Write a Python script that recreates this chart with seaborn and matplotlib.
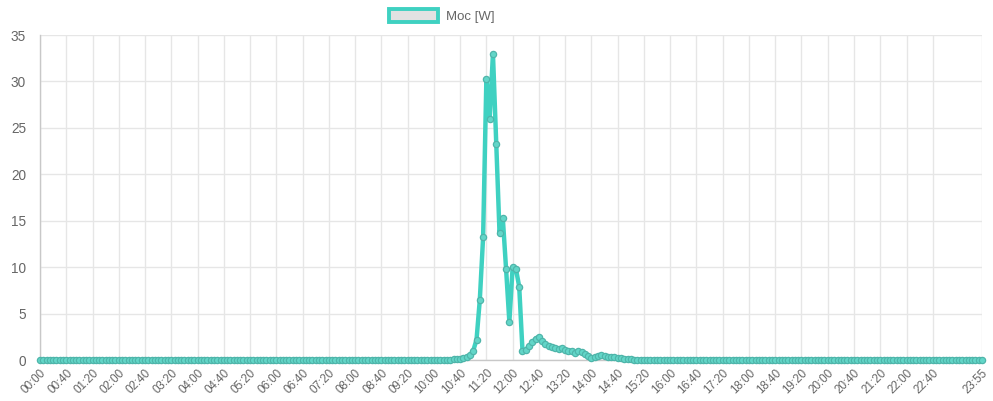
import numpy as np
import pandas as pd
import matplotlib
matplotlib.use('Agg')
import matplotlib.pyplot as plt
from matplotlib.patches import Patch
import seaborn as sns

# Moc [W] sampled every 5 minutes, one row = 2 hours (24 samples)
power = [
    0, 0, 0, 0, 0, 0, 0, 0, 0, 0, 0, 0, 0, 0, 0, 0, 0, 0, 0, 0, 0, 0, 0, 0,  # 00:00
    0, 0, 0, 0, 0, 0, 0, 0, 0, 0, 0, 0, 0, 0, 0, 0, 0, 0, 0, 0, 0, 0, 0, 0,  # 02:00
    0, 0, 0, 0, 0, 0, 0, 0, 0, 0, 0, 0, 0, 0, 0, 0, 0, 0, 0, 0, 0, 0, 0, 0,  # 04:00
    0, 0, 0, 0, 0, 0, 0, 0, 0, 0, 0, 0, 0, 0, 0, 0, 0, 0, 0, 0, 0, 0, 0, 0,  # 06:00
    0, 0, 0, 0, 0, 0, 0, 0, 0, 0, 0, 0, 0, 0, 0, 0, 0, 0, 0, 0, 0, 0, 0, 0,  # 08:00
    0.01, 0.01, 0.02, 0.02, 0.03, 0.05, 0.07, 0.1, 0.15, 0.25, 0.35, 0.5,    # 10:00
    1.0, 2.2, 6.5, 13.2, 30.3, 26.0, 33.0, 23.3, 13.7, 15.3, 9.8, 4.1,       # 11:00
    10.0, 9.8, 7.9, 1.0, 1.1, 1.5, 1.9, 2.3, 2.5, 2.1, 1.7, 1.5,             # 12:00
    1.4, 1.3, 1.2, 1.3, 1.1, 1.0, 1.0, 0.8, 1.0, 0.9, 0.7, 0.4,              # 13:00
    0.2, 0.3, 0.45, 0.5, 0.4, 0.35, 0.3, 0.3, 0.25, 0.2, 0.15, 0.1,          # 14:00
    0.08, 0.05, 0.05, 0.03, 0.02, 0, 0, 0, 0, 0, 0, 0,                       # 15:00
    0, 0, 0, 0, 0, 0, 0, 0, 0, 0, 0, 0, 0, 0, 0, 0, 0, 0, 0, 0, 0, 0, 0, 0,  # 16:00
    0, 0, 0, 0, 0, 0, 0, 0, 0, 0, 0, 0, 0, 0, 0, 0, 0, 0, 0, 0, 0, 0, 0, 0,  # 18:00
    0, 0, 0, 0, 0, 0, 0, 0, 0, 0, 0, 0, 0, 0, 0, 0, 0, 0, 0, 0, 0, 0, 0, 0,  # 20:00
    0, 0, 0, 0, 0, 0, 0, 0, 0, 0, 0, 0, 0, 0, 0, 0, 0, 0, 0, 0, 0, 0, 0, 0,  # 22:00
]

tick_labels = ['00:00', '00:40', '01:20', '02:00', '02:40', '03:20', '04:00',
               '04:40', '05:20', '06:00', '06:40', '07:20', '08:00', '08:40',
               '09:20', '10:00', '10:40', '11:20', '12:00', '12:40', '13:20',
               '14:00', '14:40', '15:20', '16:00', '16:40', '17:20', '18:00',
               '18:40', '19:20', '20:00', '20:40', '21:20', '22:00', '22:40',
               '23:55']
tick_pos = list(range(0, 273, 8)) + [287]

y_ticks = [0, 5, 10, 15, 20, 25, 30, 35]

df = pd.DataFrame({'idx': np.arange(len(power)), 'power': power})

line_color = '#3fd1c1'
text_color = '#666666'
grid_color = '#e6e6e6'

sns.set_style('white')
plt.rcParams['font.family'] = ['Liberation Sans', 'DejaVu Sans']

fig = plt.figure(figsize=(9.93, 4.01), dpi=100)
ax = fig.add_axes([40 / 993, 1 - 360 / 401, 942 / 993, 325 / 401])

sns.lineplot(data=df, x='idx', y='power', ax=ax, color=line_color,
             linewidth=3.2, marker='o', markersize=4.5,
             markerfacecolor='#62d6c8', markeredgecolor='#4fb5aa',
             markeredgewidth=0.9, clip_on=False, zorder=5)

ax.set_xlim(0, 287)
ax.set_ylim(0, 35)
ax.set_xticks(tick_pos)
ax.set_xticklabels(tick_labels, rotation=45, ha='right',
                   rotation_mode='anchor', fontsize=8.4, color=text_color)
ax.set_yticks(y_ticks)
ax.set_yticklabels([str(v) for v in y_ticks], fontsize=9.8, color=text_color)
ax.set_xlabel('')
ax.set_ylabel('')

ax.grid(True, color=grid_color, linewidth=1)
ax.tick_params(axis='y', length=8, color=grid_color, pad=2)
ax.tick_params(axis='x', length=3, color=grid_color, pad=2)
for side in ['top', 'right']:
    ax.spines[side].set_visible(False)
for side in ['left', 'bottom']:
    ax.spines[side].set_color('#c8c8c8')
    ax.spines[side].set_linewidth(1)

handle = Patch(facecolor='#e2e2e2', edgecolor=line_color, linewidth=2.8)
fig.legend([handle], ['Moc [W]'], loc='upper left',
           bbox_to_anchor=(380 / 993, 1.0), frameon=False,
           handlelength=3.7, handleheight=1.1, handletextpad=0.6,
           fontsize=9.5, labelcolor=text_color, borderaxespad=0.3)

fig.savefig('out.png', dpi=100)
